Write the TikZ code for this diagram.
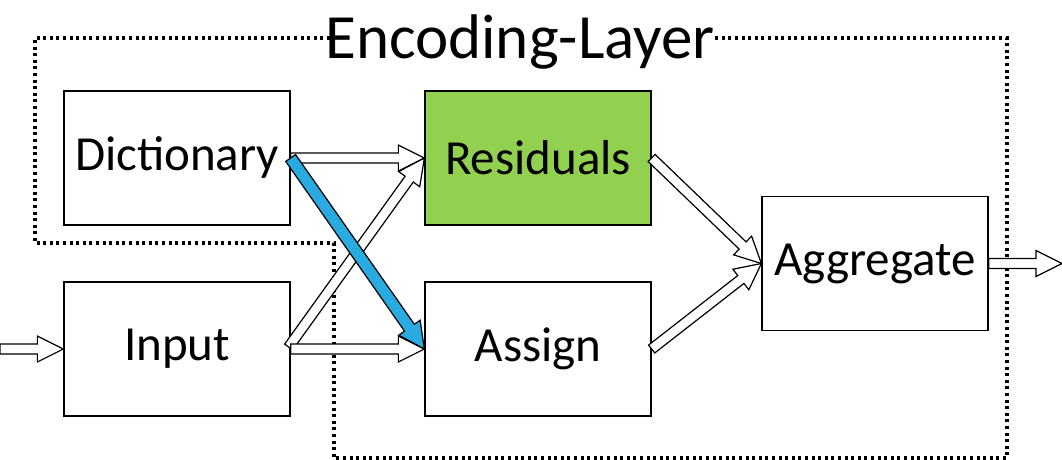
\documentclass[tikz,border=0pt]{standalone}
\usepackage{fontspec}
\setmainfont{Carlito}
\usetikzlibrary{calc}
\definecolor{resgreen}{HTML}{92D050}
\definecolor{arrblue}{HTML}{29ABE2}
\newcommand\blockarr[4][white]{%
  \coordinate (H) at ($(#4)!26pt!(#3)$);
  \draw[line width=1.2pt, line join=miter, fill=#1]
    ($(#3)!#2!90:(#4)$) -- ($(H)!#2!90:(#4)$) -- ($(H)!13pt!90:(#4)$) -- (#4)
    -- ($(H)!13pt!-90:(#4)$) -- ($(H)!#2!-90:(#4)$) -- ($(#3)!#2!-90:(#4)$) -- cycle;}
\begin{document}
\begin{tikzpicture}[x=1pt,y=-1pt,
  box/.style={draw, line width=1.3pt, minimum width=226pt, minimum height=134pt, inner sep=0pt,
    font=\fontsize{49}{58}\selectfont},
  frame/.style={line width=3.2pt, dash pattern=on 3pt off 3.6pt}]
\useasboundingbox (0,0) rectangle (1062,459);
% dotted frame
\draw[frame] (330,38) -- (35,38) -- (35,243) -- (334,243) -- (334,458) -- (1007,458) -- (1007,38) -- (712,38);
\node[anchor=base, inner sep=0pt, font=\fontsize{63}{72}\selectfont] (title) at (520,58) {Encoding-Layer};
% boxes
\node[box] (dict) at (177,158) {Dictionary};
\node[box] (input) at (177,349) {Input};
\node[box, fill=resgreen] (res) at (538,158) {Residuals};
\node[box] (assign) at (538,349) {Assign};
\node[box] (agg) at (875,263.5) {Aggregate};
% free ends
\coordinate (inl) at (0,349);
\coordinate (outr) at (1062,263.5);
\coordinate (din) at ($(input.east)+(-2,-2)$);
% arrows
\blockarr{5pt}{inl}{input.west}
\blockarr{5pt}{dict.east}{res.west}
\blockarr{5pt}{din}{res.west}
\blockarr{5pt}{input.east}{assign.west}
\blockarr[arrblue]{6pt}{dict.east}{assign.west}
\blockarr{5pt}{res.east}{agg.west}
\blockarr{5pt}{assign.east}{agg.west}
\blockarr{5pt}{agg.east}{outr}
\end{tikzpicture}
\end{document}
